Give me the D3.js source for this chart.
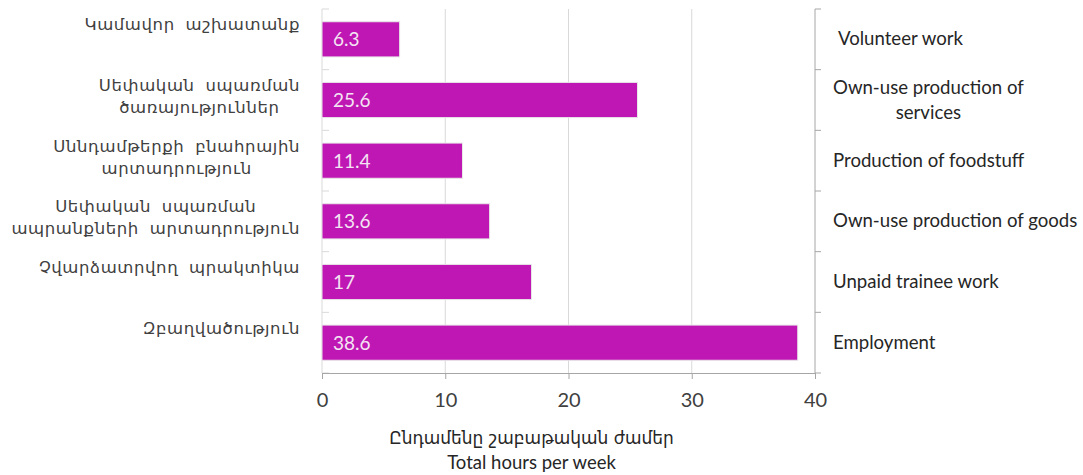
<!DOCTYPE html>
<html>
<head>
<meta charset="utf-8">
<script src="https://cdn.jsdelivr.net/npm/d3@7"></script>
<style>
  body { margin: 0; background: #fff; }
  text { font-family: Lato, "Open Sans", sans-serif; }
  .arm { font-family: "DejaVu Sans", "Noto Sans", sans-serif; }
</style>
</head>
<body>
<div id="chart"></div>
<script>
// data
var armLabels = [
  ["Կամավոր աշխատանք"],
  ["Սեփական սպառման", "ծառայություններ"],
  ["Սննդամթերքի բնահրային", "արտադրություն"],
  ["Սեփական սպառման", "ապրանքների արտադրություն"],
  ["Չվարձատրվող պրակտիկա"],
  ["Զբաղվածություն"]
];
var engLabels = [
  ["Volunteer work"],
  ["Own-use production of", "services"],
  ["Production of foodstuff"],
  ["Own-use production of goods"],
  ["Unpaid trainee work"],
  ["Employment"]
];
var hours = [6.3, 25.6, 11.4, 13.6, 17, 38.6];
var xTicks = [0, 10, 20, 30, 40];

var svgWidth = 1083;
var svgHeight = 475;
var margin = { top: 9, right: 268, bottom: 102, left: 322 };
var width = svgWidth - margin.left - margin.right;
var height = svgHeight - margin.top - margin.bottom;

var svg = d3.select("#chart")
  .append("svg")
  .attr("width", svgWidth)
  .attr("height", svgHeight)
  .append("g")
  .attr("transform", `translate(${margin.left}, ${margin.top})`);

var idx = d3.range(hours.length);

var x = d3.scaleLinear().domain([0, 40]).range([0, width]);
var y = d3.scaleBand().domain(idx).range([0, height]).paddingInner(0.42).paddingOuter(0.21);
var yb = d3.scaleBand().domain(idx).range([0, height]);

// gridlines
svg.selectAll("line.grid")
  .data([10, 20, 30])
  .enter()
  .append("line")
  .attr("class", "grid")
  .attr("x1", d => x(d)).attr("x2", d => x(d))
  .attr("y1", 0).attr("y2", height)
  .attr("stroke", "#d9d9d9");

// left axis, light with inner ticks
var yLeft = svg.append("g");
yLeft.append("line").attr("x1", 0).attr("x2", 0).attr("y1", 0).attr("y2", height).attr("stroke", "#d9d9d9");
yLeft.selectAll("line.bt")
  .data(d3.range(hours.length + 1))
  .enter()
  .append("line")
  .attr("class", "bt")
  .attr("x1", 0).attr("x2", 7)
  .attr("y1", d => d * yb.step()).attr("y2", d => d * yb.step())
  .attr("stroke", "#d9d9d9");

// right axis
var yRight = svg.append("g").attr("transform", `translate(${width},0)`);
yRight.append("line").attr("x1", 0).attr("x2", 0).attr("y1", 0).attr("y2", height).attr("stroke", "#a6a6a6");
yRight.selectAll("line.rt")
  .data(d3.range(hours.length + 1))
  .enter()
  .append("line")
  .attr("class", "rt")
  .attr("x1", 0).attr("x2", 6)
  .attr("y1", d => d * yb.step()).attr("y2", d => d * yb.step())
  .attr("stroke", "#a6a6a6");

// bottom axis
var xAxis = svg.append("g")
  .attr("transform", `translate(0,${height})`)
  .call(d3.axisBottom(x).tickValues(xTicks).tickSize(6).tickPadding(14));
xAxis.select(".domain").attr("stroke", "#a6a6a6");
xAxis.selectAll(".tick line").attr("stroke", "#a6a6a6");
xAxis.selectAll(".tick text")
  .attr("font-family", "Lato, sans-serif")
  .attr("font-size", 20)
  .attr("fill", "#404040");

// bars
svg.selectAll("rect.bar")
  .data(idx)
  .enter()
  .append("rect")
  .attr("class", "bar")
  .attr("x", 0)
  .attr("y", i => y(i))
  .attr("width", i => x(hours[i]))
  .attr("height", y.bandwidth())
  .attr("fill", "#bf17b3")
  .attr("stroke", "#e8e8e8")
  .attr("stroke-width", 1);

svg.selectAll("text.val")
  .data(idx)
  .enter()
  .append("text")
  .attr("class", "val")
  .attr("x", 11)
  .attr("y", i => y(i) + y.bandwidth() / 2 + 7)
  .attr("font-size", 19)
  .attr("fill", "#f4e4f3")
  .text(i => hours[i]);

// armenian labels, block right aligned, lines centred
idx.forEach(function(i) {
  var lines = armLabels[i];
  var g = svg.append("g");
  var top = yb(i) + yb.step() / 2 - 9;
  var ts = lines.map(function(l, k) {
    return g.append("text")
      .attr("class", "arm")
      .attr("y", top + k * 22)
      .attr("font-size", 16.5)
      .attr("letter-spacing", 0.6)
      .attr("word-spacing", 5)
      .attr("fill", "#404040")
      .attr("text-anchor", "middle")
      .text(l);
  });
  var w = d3.max(ts, t => t.node().getComputedTextLength());
  ts.forEach(t => t.attr("x", -22 - w / 2));
});

// english labels
idx.forEach(function(i) {
  var lines = engLabels[i];
  var cy = yb(i) + yb.step() / 2;
  var g = svg.append("g");
  var ts = lines.map(function(l, k) {
    return g.append("text")
      .attr("y", cy + 6 + (k - (lines.length - 1) / 2) * 25)
      .attr("font-size", 18.6)
      .attr("fill", "#262626")
      .attr("text-anchor", "middle")
      .text(l);
  });
  var w = d3.max(ts, t => t.node().getComputedTextLength());
  ts.forEach(t => t.attr("x", width + 18 + w / 2 + (i === 0 ? 5 : 0)));
});

// axis titles
svg.append("text")
  .attr("class", "arm")
  .attr("x", x(17))
  .attr("y", height + 71)
  .attr("text-anchor", "middle")
  .attr("font-size", 17)
  .attr("fill", "#262626")
  .text("Ընդամենը շաբաթական ժամեր");

svg.append("text")
  .attr("x", x(17))
  .attr("y", height + 96)
  .attr("text-anchor", "middle")
  .attr("font-size", 18.5)
  .attr("fill", "#262626")
  .text("Total hours per week");
</script>
</body>
</html>
